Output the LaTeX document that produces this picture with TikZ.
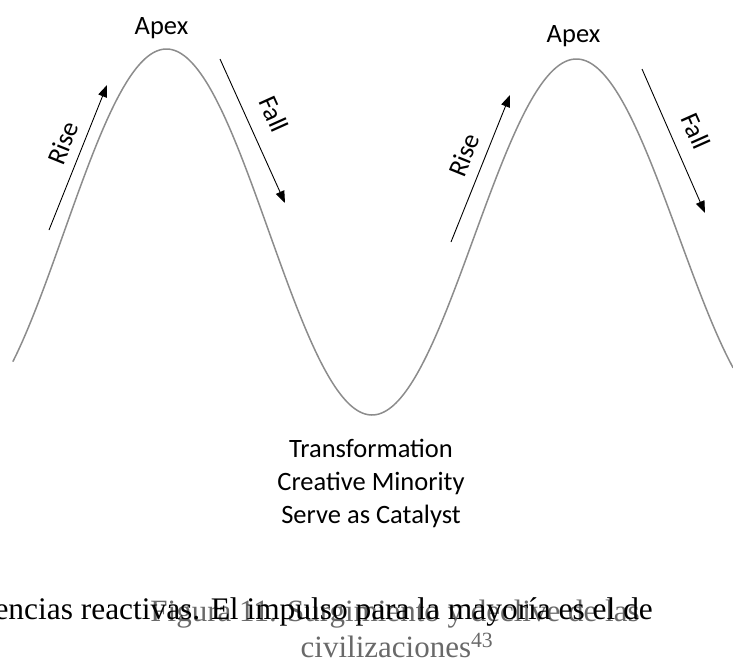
\documentclass[tikz,border=0pt]{standalone}
\usepackage{fontspec}
\setmainfont{Liberation Serif}
\newfontfamily\labelfont{Carlito}
\usetikzlibrary{arrows.meta}

\definecolor{wave}{RGB}{140,140,140}
\definecolor{captiongray}{RGB}{105,105,105}

\tikzset{
  wavecurve/.style={draw=wave, line width=1.5pt, line cap=round},
  phasearrow/.style={draw=black, line width=0.9pt, -{Triangle[length=12pt,width=9pt]}},
  phaselabel/.style={font=\labelfont\fontsize{26.5}{32}\selectfont, inner sep=0pt},
  bodytext/.style={font=\fontsize{31.4}{36}\selectfont, inner sep=0pt},
  captiontext/.style={font=\fontsize{31}{36}\selectfont, text=captiongray, inner sep=0pt}
}

\begin{document}
\begin{tikzpicture}[x=1pt, y=-1pt]
  \useasboundingbox (0,0) rectangle (733,665);

  % rise-and-fall wave: peaks at x=167 and x=577, trough at x=372
  \draw[wavecurve, domain=13:733, samples=300, smooth, variable=\t]
    plot ({\t}, {415 - (415 - (49 + (\t-167)/41))*(1 + cos((\t-167)/410*360))/2});

  % first cycle
  \node[phaselabel, anchor=base] (apexA) at (161.5,34) {Apex};
  \coordinate (riseAs) at (49,230);
  \coordinate (riseAe) at (107,85);
  \draw[phasearrow] (riseAs) -- (riseAe);
  \node[phaselabel, rotate=68] (riseA) at (63,143) {Rise};
  \coordinate (fallAs) at (220,59);
  \coordinate (fallAe) at (285,203);
  \draw[phasearrow] (fallAs) -- (fallAe);
  \node[phaselabel, rotate=-65.7] (fallA) at (274,114) {Fall};

  % second cycle
  \node[phaselabel, anchor=base] (apexB) at (573.5,42) {Apex};
  \coordinate (riseBs) at (451,242);
  \coordinate (riseBe) at (510,95);
  \draw[phasearrow] (riseBs) -- (riseBe);
  \node[phaselabel, rotate=68] (riseB) at (464,155) {Rise};
  \coordinate (fallBs) at (642,69);
  \coordinate (fallBe) at (705,213);
  \draw[phasearrow] (fallBs) -- (fallBe);
  \node[phaselabel, rotate=-66] (fallB) at (696,131) {Fall};

  % trough description
  \node[phaselabel, anchor=base] (trough1) at (371,457) {Transformation};
  \node[phaselabel, anchor=base] (trough2) at (371,490) {Creative Minority};
  \node[phaselabel, anchor=base] (trough3) at (371,523) {Serve as Catalyst};

  % figure caption lying under the running text
  \node[captiontext, anchor=base] (cap1) at (395,621) {Figura 11. Surgimiento y declive de las};
  \node[captiontext, anchor=base] (cap2) at (397,657) {civilizaciones\textsuperscript{43}};

  % running text line
  \node[bodytext, anchor=base east] (body) at (653,619) {encias reactivas. El impulso para la mayoría es el de};
\end{tikzpicture}
\end{document}
